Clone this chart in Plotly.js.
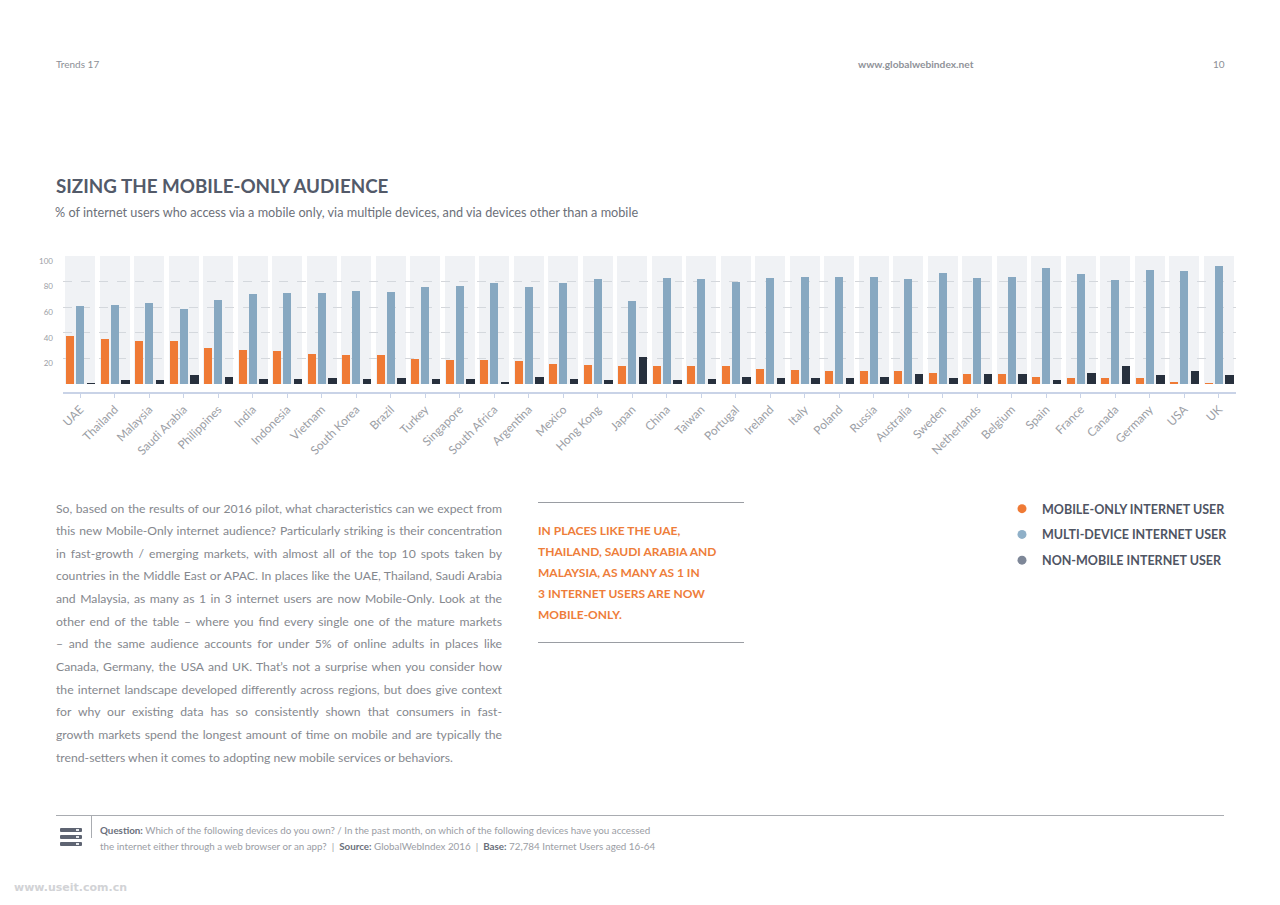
<!DOCTYPE html>
<html>
<head>
<meta charset="utf-8">
<script src="https://cdn.plot.ly/plotly-3.0.1.min.js"></script>
<style>
html,body{margin:0;padding:0;background:#fff;}
#wrap{position:relative;width:1280px;height:905px;overflow:hidden;background:#fff;}
#chart{position:absolute;left:0;top:0;width:1280px;height:905px;}
.t{position:absolute;font-family:'Lato','Open Sans',sans-serif;white-space:nowrap;}
.hdr{font-size:10px;color:#8c8f96;top:58px;line-height:12px;}
.para{left:56px;top:497.5px;width:446px;font-size:12.2px;color:#85888e;}
.para div{height:22.65px;line-height:22.65px;text-align:justify;text-align-last:justify;white-space:nowrap;}
.para div.last{text-align-last:left;}
.call{left:538px;top:519.5px;font-family:'Lato',sans-serif;font-weight:700;font-size:12px;color:#ee7d3a;line-height:21px;}
.rule{position:absolute;background:#9a9da3;height:1px;}
.foot{left:100px;top:822px;font-size:9.8px;color:#9a9da4;line-height:16px;}
.foot b{color:#6b707b;}
.icon{position:absolute;left:60px;width:22px;height:4px;background:#5e6472;border-radius:1px;}
.icon i{position:absolute;right:3px;top:1px;width:3px;height:2px;background:#e6e8ec;}
</style>
</head>
<body>
<div id="wrap">
<div id="chart"></div>

<div class="t hdr" style="left:56px;">Trends 17</div>
<div class="t hdr" style="left:858px;font-weight:700;color:#8f9299;font-size:10.2px;">www.globalwebindex.net</div>
<div class="t hdr" style="left:1213px;">10</div>

<div class="t para">
<div>So, based on the results of our 2016 pilot, what characteristics can we expect from</div>
<div>this new Mobile-Only internet audience? Particularly striking is their concentration</div>
<div>in fast-growth / emerging markets, with almost all of the top 10 spots taken by</div>
<div>countries in the Middle East or APAC. In places like the UAE, Thailand, Saudi Arabia</div>
<div>and Malaysia, as many as 1 in 3 internet users are now Mobile-Only. Look at the</div>
<div>other end of the table – where you find every single one of the mature markets</div>
<div>– and the same audience accounts for under 5% of online adults in places like</div>
<div>Canada, Germany, the USA and UK. That’s not a surprise when you consider how</div>
<div>the internet landscape developed differently across regions, but does give context</div>
<div>for why our existing data has so consistently shown that consumers in fast-</div>
<div>growth markets spend the longest amount of time on mobile and are typically the</div>
<div class="last">trend-setters when it comes to adopting new mobile services or behaviors.</div>
</div>

<div class="rule" style="left:538px;top:502px;width:206px;"></div>
<div class="t call">IN PLACES LIKE THE UAE,<br>THAILAND, SAUDI ARABIA AND<br>MALAYSIA, AS MANY AS 1 IN<br>3 INTERNET USERS ARE NOW<br>MOBILE-ONLY.</div>
<div class="rule" style="left:538px;top:642px;width:206px;"></div>

<div class="rule" style="left:56px;top:815px;width:1168px;background:#a9acb1;"></div>
<div class="rule" style="left:91px;top:815px;width:1px;height:23px;background:#a9acb1;"></div>
<div class="icon" style="top:828px;"><i></i></div>
<div class="icon" style="top:835px;"><i></i></div>
<div class="icon" style="top:842px;"><i></i></div>
<div class="t foot"><b>Question:</b> Which of the following devices do you own? / In the past month, on which of the following devices have you accessed<br>the internet either through a web browser or an app? &nbsp;|&nbsp; <b>Source:</b> GlobalWebIndex 2016 &nbsp;|&nbsp; <b>Base:</b> 72,784 Internet Users aged 16-64</div>

<div class="t" style="left:14px;top:881px;font-size:11px;font-weight:700;color:#d2d3d6;font-family:'DejaVu Sans','Lato',sans-serif;">www.useit.com.cn</div>
</div>

<script>
const countries = ['UAE','Thailand','Malaysia','Saudi Arabia','Philippines','India','Indonesia','Vietnam','South Korea','Brazil','Turkey','Singapore','South Africa','Argentina','Mexico','Hong Kong','Japan','China','Taiwan','Portugal','Ireland','Italy','Poland','Russia','Australia','Sweden','Netherlands','Belgium','Spain','France','Canada','Germany','USA','UK'];
const mobileOnly  = [38,35,34,34,28,27,26,24,23,23,20,19,19,18,16,15,14,14,14,14,12,11,10,10,10,9,8,8,6,5,5,5,2,1];
const multiDevice = [61,62,63,59,66,70,71,71,73,72,76,77,79,76,79,82,65,83,82,80,83,84,84,84,82,87,83,84,91,86,81,89,88,92];
const nonMobile   = [1,3,3,7,6,4,4,5,4,5,4,4,2,6,4,3,21,3,4,6,5,5,5,6,8,5,8,8,3,9,14,7,10,7];
const seriesNames = ['MOBILE-ONLY INTERNET USER','MULTI-DEVICE INTERNET USER','NON-MOBILE INTERNET USER'];
const yTicks = [20,40,60,80,100];
const gridTicks = [20,40,60,80];
const scaleMax = 100;

const barColors = ['#ef7a35','#87a8c1','#27303d'];
const legendColors = ['#ef7a35','#8fb0c8','#7e8798'];
const bold = "'Lato','Open Sans',sans-serif";
const body = "'Lato','Open Sans',sans-serif";

const W = 1280, H = 905;
const M = {l:63, r:44, t:256, b:513, autoexpand:false};
const plotW = W - M.l - M.r, plotH = H - M.t - M.b;
const px = x => (x - M.l) / plotW;
const py = y => (H - M.b - y) / plotH;

const barW = 0.24;
const common = {type:'bar', x:countries, width:barW, hoverinfo:'skip', showlegend:false};

const traces = [
  {type:'bar', x:countries, y:countries.map(() => scaleMax), width:0.86, offset:-0.43,
   marker:{color:'rgba(214,219,228,0.36)', line:{width:0}}, hoverinfo:'skip', showlegend:false},
  Object.assign({}, common, {y:mobileOnly, offset:-0.41, marker:{color:barColors[0], line:{width:0}}}),
  Object.assign({}, common, {y:multiDevice, offset:-0.12, marker:{color:barColors[1], line:{width:0}}}),
  Object.assign({}, common, {y:nonMobile, offset:0.19, marker:{color:barColors[2], line:{width:0}}})
];
seriesNames.forEach((n, i) => {
  traces.push({type:'scatter', mode:'markers', x:[null], y:[null], name:n, legendgroup:'g'+i,
    marker:{size:9, color:legendColors[i]}, hoverinfo:'skip'});
});

const layout = {
  width:W, height:H,
  margin:M,
  paper_bgcolor:'rgba(0,0,0,0)', plot_bgcolor:'rgba(0,0,0,0)',
  barmode:'overlay', bargap:0,
  title:{text:'<b>SIZING THE MOBILE-ONLY AUDIENCE</b>', xref:'container', yref:'container',
    x:56/W, xanchor:'left', y:1-186/H, yanchor:'middle',
    font:{family:bold, size:18.8, color:'#535a69'}},
  xaxis:{type:'category', range:[-0.5, countries.length-0.5], showline:true, linecolor:'#c9d3e7', linewidth:2,
    ticks:'outside', ticklen:4, tickwidth:1, tickcolor:'#c9d3e7', tickangle:-45,
    tickfont:{family:body, size:11.8, color:'#9b9ea5'}, showgrid:false, zeroline:false, fixedrange:true},
  yaxis:{range:[-6, scaleMax], tickmode:'array', tickvals:yTicks, showgrid:false, zeroline:false, ticks:'',
    showline:false, tickfont:{family:body, size:8, color:'#9b9ea5'}, ticklabelshift:5, ticklabelstandoff:9,
    minor:{tickmode:'array', tickvals:gridTicks, showgrid:true, gridcolor:'#d4d6da', griddash:'dash', gridwidth:1, ticks:''},
    fixedrange:true},
  legend:{xref:'container', yref:'container', x:1002/W, y:1-494/H, xanchor:'left', yanchor:'top',
    font:{family:bold, size:12.5, color:'#4f5563', weight:700}, tracegroupgap:6.5, itemwidth:30, bgcolor:'rgba(0,0,0,0)'},
  annotations:[
    {text:'% of internet users who access via a mobile only, via multiple devices, and via devices other than a mobile',
     xref:'paper', yref:'paper', x:px(53), y:py(211.5), xanchor:'left', yanchor:'middle', showarrow:false,
     font:{family:body, size:12.7, color:'#6c7079'}}
  ]
};

Plotly.newPlot('chart', traces, layout, {displayModeBar:false, staticPlot:true});
</script>
</body>
</html>
